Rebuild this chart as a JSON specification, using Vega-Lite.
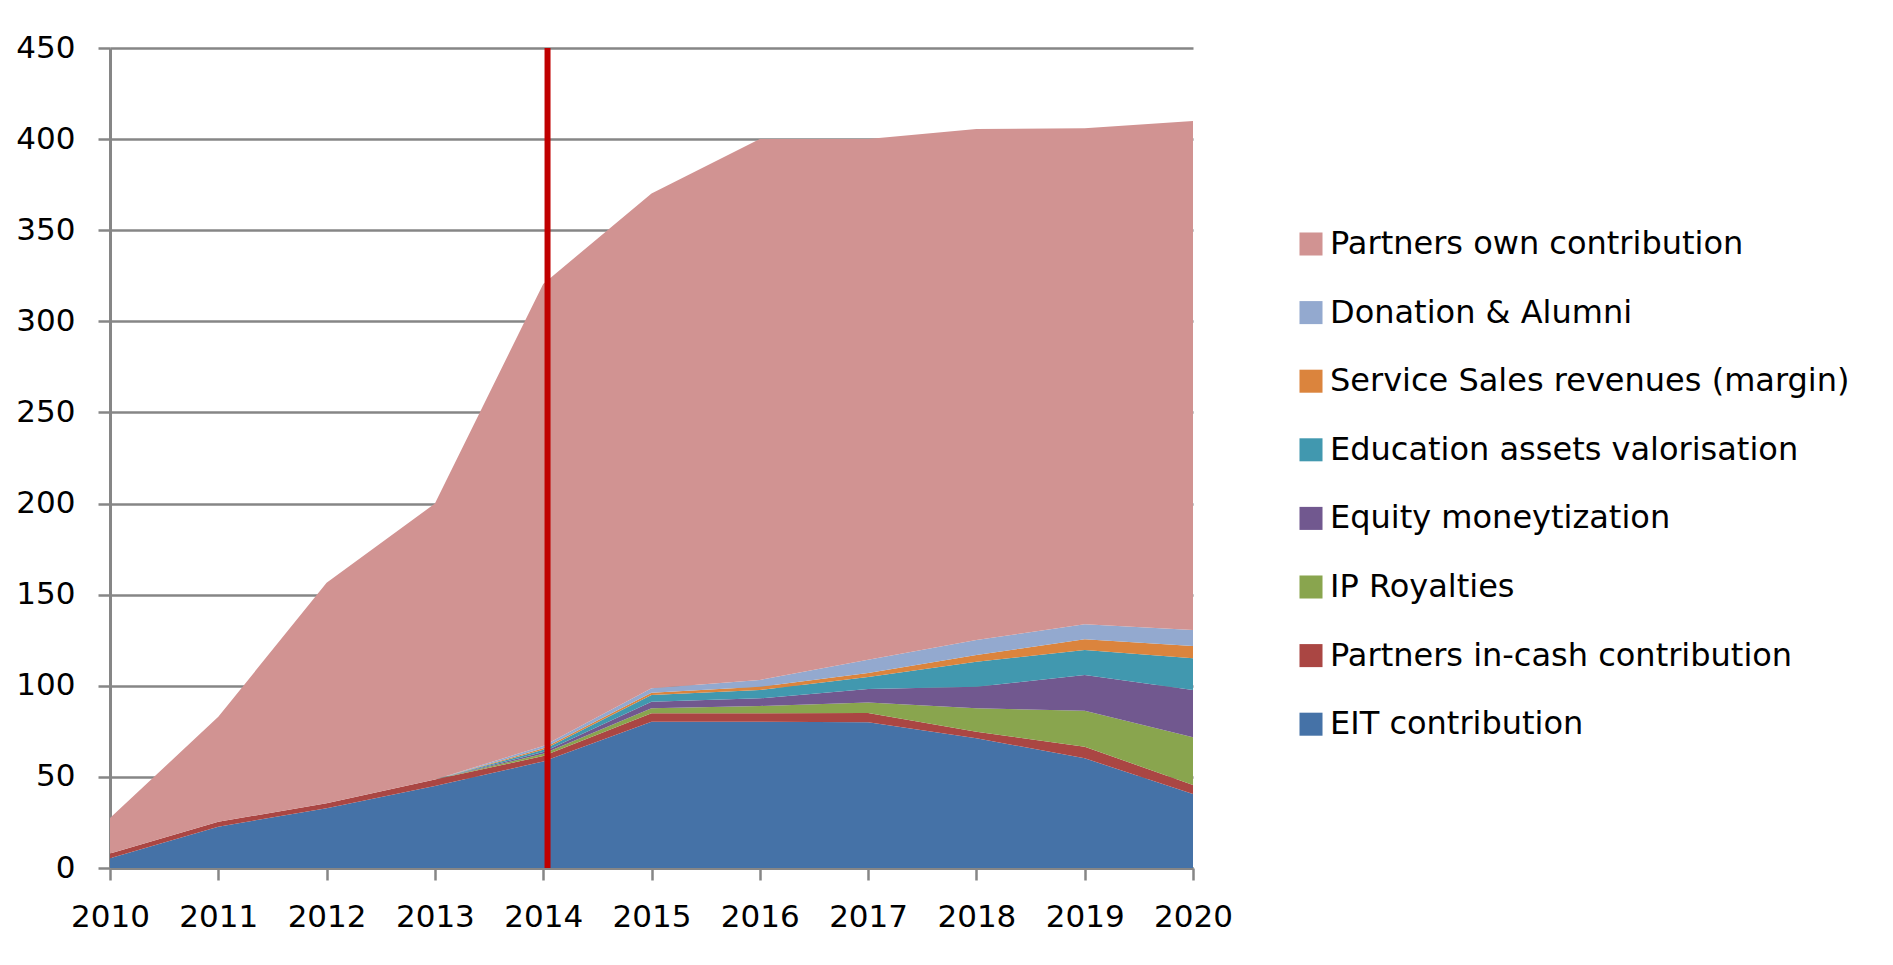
{
  "$schema": "https://vega.github.io/schema/vega-lite/v6.json",
  "width": 1083,
  "height": 820,
  "autosize": {"type": "none"},
  "padding": {"left": 110, "top": 48, "right": 700, "bottom": 97},
  "background": "white",
  "config": {"view": {"stroke": null}, "font": "DejaVu Sans"},
  "datasets": {
    "wide": [
      {"year": 2010, "EIT contribution": 5.3, "Partners in-cash contribution": 2.7, "IP Royalties": 0, "Equity moneytization": 0, "Education assets valorisation": 0, "Service Sales revenues (margin)": 0, "Donation & Alumni": 0, "Partners own contribution": 19.4},
      {"year": 2011, "EIT contribution": 22.7, "Partners in-cash contribution": 2.7, "IP Royalties": 0, "Equity moneytization": 0, "Education assets valorisation": 0, "Service Sales revenues (margin)": 0, "Donation & Alumni": 0, "Partners own contribution": 57.6},
      {"year": 2012, "EIT contribution": 32.8, "Partners in-cash contribution": 2.7, "IP Royalties": 0, "Equity moneytization": 0, "Education assets valorisation": 0, "Service Sales revenues (margin)": 0, "Donation & Alumni": 0, "Partners own contribution": 121},
      {"year": 2013, "EIT contribution": 45, "Partners in-cash contribution": 3.5, "IP Royalties": 0, "Equity moneytization": 0, "Education assets valorisation": 0, "Service Sales revenues (margin)": 0, "Donation & Alumni": 0, "Partners own contribution": 151.5},
      {"year": 2014, "EIT contribution": 58.5, "Partners in-cash contribution": 3, "IP Royalties": 1.2, "Equity moneytization": 1, "Education assets valorisation": 1.2, "Service Sales revenues (margin)": 0.8, "Donation & Alumni": 1.3, "Partners own contribution": 253.5},
      {"year": 2015, "EIT contribution": 80.3, "Partners in-cash contribution": 4.6, "IP Royalties": 2.7, "Equity moneytization": 3.7, "Education assets valorisation": 3.7, "Service Sales revenues (margin)": 1.2, "Donation & Alumni": 2.4, "Partners own contribution": 271.6},
      {"year": 2016, "EIT contribution": 80.3, "Partners in-cash contribution": 4.6, "IP Royalties": 4, "Equity moneytization": 4.2, "Education assets valorisation": 4.6, "Service Sales revenues (margin)": 1.8, "Donation & Alumni": 3.7, "Partners own contribution": 296.8},
      {"year": 2017, "EIT contribution": 80, "Partners in-cash contribution": 5, "IP Royalties": 5.8, "Equity moneytization": 7.4, "Education assets valorisation": 6.6, "Service Sales revenues (margin)": 2.2, "Donation & Alumni": 7.3, "Partners own contribution": 285.7},
      {"year": 2018, "EIT contribution": 71.2, "Partners in-cash contribution": 3.6, "IP Royalties": 12.8, "Equity moneytization": 11.9, "Education assets valorisation": 13.7, "Service Sales revenues (margin)": 3.7, "Donation & Alumni": 8.2, "Partners own contribution": 280.4},
      {"year": 2019, "EIT contribution": 60.2, "Partners in-cash contribution": 6.4, "IP Royalties": 19.7, "Equity moneytization": 19.6, "Education assets valorisation": 13.7, "Service Sales revenues (margin)": 5.9, "Donation & Alumni": 8.2, "Partners own contribution": 272.3},
      {"year": 2020, "EIT contribution": 40.6, "Partners in-cash contribution": 4.9, "IP Royalties": 26.2, "Equity moneytization": 26, "Education assets valorisation": 17.4, "Service Sales revenues (margin)": 6.7, "Donation & Alumni": 8.8, "Partners own contribution": 279.4}
    ],
    "series": [
      {"series": "EIT contribution", "k": 1},
      {"series": "Partners in-cash contribution", "k": 2},
      {"series": "IP Royalties", "k": 3},
      {"series": "Equity moneytization", "k": 4},
      {"series": "Education assets valorisation", "k": 5},
      {"series": "Service Sales revenues (margin)", "k": 6},
      {"series": "Donation & Alumni", "k": 7},
      {"series": "Partners own contribution", "k": 8}
    ],
    "marker": [{"year": 2014.04}]
  },
  "layer": [
    {
      "data": {"name": "wide"},
      "transform": [
        {"fold": ["EIT contribution", "Partners in-cash contribution", "IP Royalties", "Equity moneytization", "Education assets valorisation", "Service Sales revenues (margin)", "Donation & Alumni", "Partners own contribution"], "as": ["series", "value"]},
        {"lookup": "series", "from": {"data": {"name": "series"}, "key": "series", "fields": ["k"]}}
      ],
      "mark": {"type": "area", "interpolate": "linear"},
      "encoding": {
        "x": {
          "field": "year", "type": "quantitative",
          "scale": {"domain": [2010, 2020], "nice": false, "zero": false},
          "axis": {
            "values": [2010, 2011, 2012, 2013, 2014, 2015, 2016, 2017, 2018, 2019, 2020],
            "format": "d", "title": null, "grid": false,
            "labelFontSize": 31, "labelColor": "black", "labelFlush": false, "labelPadding": 22,
            "domainColor": "#868686", "domainWidth": 3,
            "tickColor": "#868686", "tickWidth": 2.5, "tickSize": 12
          }
        },
        "y": {
          "field": "value", "type": "quantitative", "stack": "zero",
          "scale": {"domain": [0, 450], "nice": false},
          "axis": {
            "values": [0, 50, 100, 150, 200, 250, 300, 350, 400, 450],
            "title": null, "grid": true, "gridColor": "#868686", "gridWidth": 2.5,
            "labelFontSize": 31, "labelColor": "black", "labelPadding": 23,
            "domainColor": "#868686", "domainWidth": 3,
            "tickColor": "#868686", "tickWidth": 2.5, "tickSize": 12
          }
        },
        "color": {
          "field": "series", "type": "nominal",
          "scale": {
            "domain": ["Partners own contribution", "Donation & Alumni", "Service Sales revenues (margin)", "Education assets valorisation", "Equity moneytization", "IP Royalties", "Partners in-cash contribution", "EIT contribution"],
            "range": ["#D19392", "#93A9CF", "#DB843D", "#4198AF", "#71588F", "#89A54E", "#AA4643", "#4572A7"]
          },
          "legend": {
            "orient": "none", "legendX": 1185, "legendY": 180, "title": null, "padding": 0,
            "symbolType": "square", "symbolSize": 530, "symbolStrokeWidth": 0, "symbolOpacity": 1,
            "labelFontSize": 32, "labelColor": "black", "labelOffset": 3, "labelLimit": 700,
            "rowPadding": 36.6
          }
        },
        "order": {"field": "k", "type": "quantitative", "sort": "ascending"}
      }
    },
    {
      "data": {"name": "marker"},
      "mark": {"type": "rule", "color": "#C00000", "strokeWidth": 6},
      "encoding": {
        "x": {"field": "year", "type": "quantitative"}
      }
    }
  ]
}
